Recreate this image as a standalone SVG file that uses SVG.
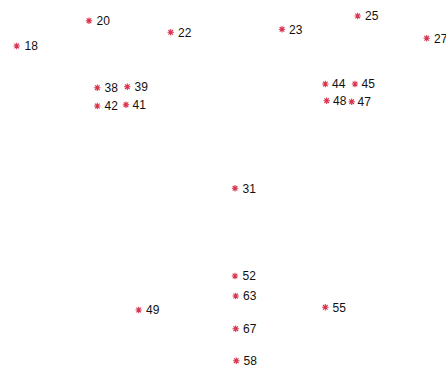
<svg xmlns="http://www.w3.org/2000/svg" xmlns:xlink="http://www.w3.org/1999/xlink" width="446" height="367" viewBox="0 0 446 367">
<style>
.m{stroke:#d9344f;stroke-width:1.1;fill:none}
text{font-family:"Liberation Sans",Arial,sans-serif;font-size:12px;fill:#111}
</style>
<defs>
<path id="ast" class="m" d="M-3.2,0H3.2M0,-3.2V3.2M-2.3,-2.3L2.3,2.3M-2.3,2.3L2.3,-2.3"/>
</defs>
<rect width="446" height="367" fill="#fff"/>
<g id="connectors"/>
<g id="p18"><use xlink:href="#ast" x="16.7" y="46"/><text x="24.5" y="50.3">18</text></g>
<g id="p20"><use xlink:href="#ast" x="89" y="20.7"/><text x="96.5" y="25">20</text></g>
<g id="p22"><use xlink:href="#ast" x="170.7" y="32.3"/><text x="178" y="36.6">22</text></g>
<g id="p38"><use xlink:href="#ast" x="97.3" y="87.7"/><text x="104.5" y="92">38</text></g>
<g id="p39"><use xlink:href="#ast" x="127.3" y="86.7"/><text x="134.5" y="91">39</text></g>
<g id="p42"><use xlink:href="#ast" x="97.3" y="106"/><text x="104.5" y="110.3">42</text></g>
<g id="p41"><use xlink:href="#ast" x="126" y="104.7"/><text x="132.5" y="109">41</text></g>
<g id="p23"><use xlink:href="#ast" x="282" y="29.3"/><text x="289" y="33.6">23</text></g>
<g id="p25"><use xlink:href="#ast" x="357.7" y="16"/><text x="365" y="20.3">25</text></g>
<g id="p27"><use xlink:href="#ast" x="426.7" y="38.3"/><text x="434" y="42.6">27</text></g>
<g id="p44"><use xlink:href="#ast" x="325.3" y="84"/><text x="332" y="88.3">44</text></g>
<g id="p45"><use xlink:href="#ast" x="355" y="84"/><text x="361.5" y="88.3">45</text></g>
<g id="p48"><use xlink:href="#ast" x="326.7" y="100.7"/><text x="333" y="105">48</text></g>
<g id="p47"><use xlink:href="#ast" x="351.7" y="101.7"/><text x="357.5" y="106">47</text></g>
<g id="p31"><use xlink:href="#ast" x="235" y="188.3"/><text x="242.5" y="192.6">31</text></g>
<g id="p52"><use xlink:href="#ast" x="235" y="276"/><text x="242.5" y="280.3">52</text></g>
<g id="p63"><use xlink:href="#ast" x="235.7" y="296"/><text x="243" y="300.3">63</text></g>
<g id="p49"><use xlink:href="#ast" x="138.7" y="310"/><text x="146" y="314.3">49</text></g>
<g id="p55"><use xlink:href="#ast" x="325.3" y="307.3"/><text x="332.5" y="311.6">55</text></g>
<g id="p67"><use xlink:href="#ast" x="235.7" y="328.7"/><text x="243" y="333">67</text></g>
<g id="p58"><use xlink:href="#ast" x="236.3" y="360.7"/><text x="243.5" y="365">58</text></g>
</svg>
